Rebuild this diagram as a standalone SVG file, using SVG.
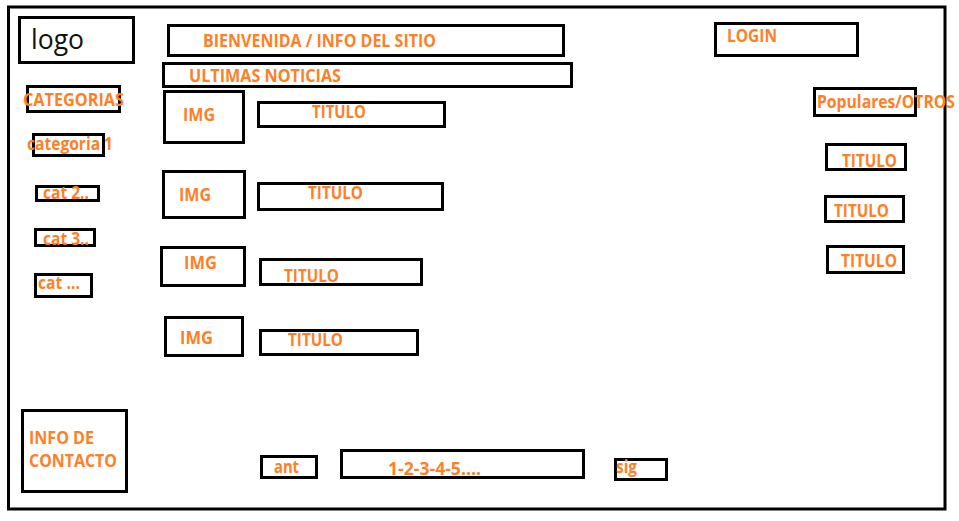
<svg xmlns="http://www.w3.org/2000/svg" width="959" height="521" viewBox="0 0 959 521">
<style>
rect{fill:none;stroke:#000;stroke-width:3}
text{font-family:"Open Sans","Liberation Sans",sans-serif;font-weight:bold;font-size:17px;fill:#FF7F27}
.logo{font-weight:normal;font-size:28px;fill:#111}
</style>
<rect fill="#fff" style="fill:#fff;stroke:none" x="0" y="0" width="959" height="521"/>
<g id="frame"><rect x="8.5" y="7" width="936.5" height="502"/></g>
<g id="connectors"></g>
<g id="logo"><rect x="19.5" y="17.5" width="114" height="45"/><text class="logo" x="31" y="49" textLength="53" lengthAdjust="spacingAndGlyphs">logo</text></g>
<g id="bienvenida"><rect x="168.5" y="25.5" width="395" height="30"/><text x="203" y="47" textLength="233" lengthAdjust="spacingAndGlyphs">BIENVENIDA / INFO DEL SITIO</text></g>
<g id="ultimas"><rect x="163.5" y="63.5" width="408" height="23"/><text x="189" y="82" textLength="152" lengthAdjust="spacingAndGlyphs">ULTIMAS NOTICIAS</text></g>
<g id="login"><rect x="715.5" y="23.5" width="142" height="32"/><text x="727" y="42" textLength="50" lengthAdjust="spacingAndGlyphs">LOGIN</text></g>
<g id="categorias"><rect x="27.5" y="86.5" width="92" height="25"/><text x="23" y="106" textLength="101" lengthAdjust="spacingAndGlyphs">CATEGORIAS</text></g>
<g id="cat1"><rect x="33.5" y="134.5" width="70" height="21"/><text x="27" y="150" textLength="86" lengthAdjust="spacingAndGlyphs">categoria 1</text></g>
<g id="cat2"><rect x="36.5" y="186.5" width="62" height="14"/><text x="43" y="199" textLength="46" lengthAdjust="spacingAndGlyphs">cat 2..</text></g>
<g id="cat3"><rect x="35.5" y="229.5" width="59" height="16"/><text x="43" y="245" textLength="46" lengthAdjust="spacingAndGlyphs">cat 3..</text></g>
<g id="catn"><rect x="35.5" y="274.5" width="56" height="22"/><text x="38" y="289" textLength="42" lengthAdjust="spacingAndGlyphs">cat ...</text></g>
<g id="img1"><rect x="164.5" y="91.5" width="79" height="51"/><text x="183" y="121" textLength="32" lengthAdjust="spacingAndGlyphs">IMG</text></g>
<g id="titulo1"><rect x="258.5" y="102.5" width="186" height="24"/><text x="312" y="118" textLength="54" lengthAdjust="spacingAndGlyphs">TITULO</text></g>
<g id="img2"><rect x="163.5" y="171.5" width="81" height="46"/><text x="179" y="201" textLength="32" lengthAdjust="spacingAndGlyphs">IMG</text></g>
<g id="titulo2"><rect x="258.5" y="183.5" width="184" height="26"/><text x="308" y="199" textLength="55" lengthAdjust="spacingAndGlyphs">TITULO</text></g>
<g id="img3"><rect x="161.5" y="247.5" width="83" height="38"/><text x="184" y="269" textLength="33" lengthAdjust="spacingAndGlyphs">IMG</text></g>
<g id="titulo3"><rect x="260.5" y="259.5" width="161" height="25"/><text x="284" y="282" textLength="55" lengthAdjust="spacingAndGlyphs">TITULO</text></g>
<g id="img4"><rect x="165.5" y="317.5" width="77" height="38"/><text x="180" y="344" textLength="33" lengthAdjust="spacingAndGlyphs">IMG</text></g>
<g id="titulo4"><rect x="260.5" y="330.5" width="157" height="24"/><text x="288" y="346" textLength="55" lengthAdjust="spacingAndGlyphs">TITULO</text></g>
<g id="populares"><rect x="814.5" y="88.5" width="101" height="27"/><text x="817" y="108" textLength="138" lengthAdjust="spacingAndGlyphs">Populares/OTROS</text></g>
<g id="tituloR1"><rect x="826.5" y="144.5" width="79" height="25"/><text x="842" y="167" textLength="55" lengthAdjust="spacingAndGlyphs">TITULO</text></g>
<g id="tituloR2"><rect x="825.5" y="196.5" width="78" height="25"/><text x="834" y="217" textLength="55" lengthAdjust="spacingAndGlyphs">TITULO</text></g>
<g id="tituloR3"><rect x="827.5" y="246.5" width="76" height="26"/><text x="841" y="267" textLength="56" lengthAdjust="spacingAndGlyphs">TITULO</text></g>
<g id="contacto"><rect x="22.5" y="410.5" width="104" height="81"/><text x="29" y="444" textLength="65" lengthAdjust="spacingAndGlyphs">INFO DE</text><text x="29" y="467" textLength="88" lengthAdjust="spacingAndGlyphs">CONTACTO</text></g>
<g id="ant"><rect x="261.5" y="456.5" width="55" height="21"/><text x="274" y="473" textLength="25" lengthAdjust="spacingAndGlyphs">ant</text></g>
<g id="paginas"><rect x="341.5" y="450.5" width="242" height="27"/><text x="388" y="475" textLength="93" lengthAdjust="spacingAndGlyphs">1-2-3-4-5....</text></g>
<g id="sig"><rect x="615.5" y="459.5" width="51" height="20"/><text x="616" y="473" textLength="21" lengthAdjust="spacingAndGlyphs">sig</text></g>
</svg>
